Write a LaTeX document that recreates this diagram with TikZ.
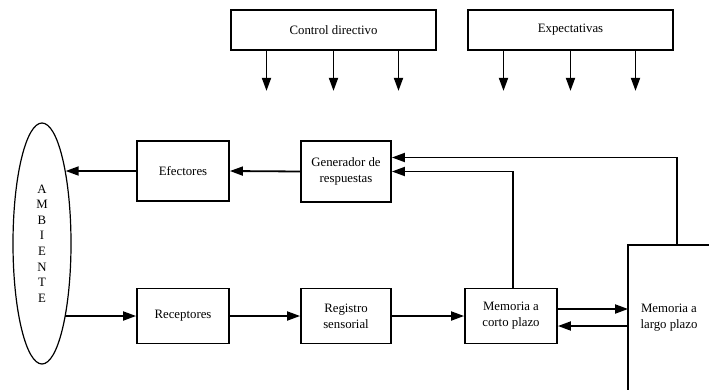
\documentclass[tikz,border=0pt]{standalone}
\usepackage{fontspec}
\setmainfont{Liberation Serif}
\usetikzlibrary{arrows.meta,shapes.geometric}

\tikzset{
  block/.style={draw,line width=1.8pt,inner sep=2pt,align=center,font=\fontsize{12.8}{16}\selectfont},
  flow/.style={line width=1.8pt,-{Triangle[length=13pt,width=9pt]}},
}

\begin{document}
\begin{tikzpicture}[x=1pt,y=-1pt]
\useasboundingbox (0,0) rectangle (709,389);
% top row
\node[block,minimum width=205pt,minimum height=40pt] (ctrl) at (333.5,30) {Control directivo};
\node[block,minimum width=205pt,minimum height=40pt] (expect) at (570.5,30) {Expectativas};
\foreach \dx in {-67,0,65} {
  \draw[flow] ([xshift=\dx pt]ctrl.south) -- ++(0,40);
  \draw[flow] ([xshift=\dx pt]expect.south) -- ++(0,40);
}
% environment
\node[draw,ellipse,line width=1.2pt,minimum width=58pt,minimum height=241pt,inner sep=0pt,
  align=center,font=\fontsize{12.8}{15.6}\selectfont] (amb) at (42,243.5) {A\\M\\B\\I\\E\\N\\T\\E};
% middle row
\node[block,minimum width=92pt,minimum height=60pt] (efect) at (183,171) {Efectores};
\node[block,minimum width=90pt,minimum height=61pt] (gen) at (346,171.5) {Generador de\\respuestas};
% bottom row
\node[block,minimum width=92pt,minimum height=55pt] (recep) at (183,316) {Receptores};
\node[block,minimum width=90pt,minimum height=55pt] (regis) at (346,316) {Registro\\sensorial};
\node[block,minimum width=92pt,minimum height=55pt] (stm) at (511,316) {Memoria a\\corto plazo};
\node[block,draw=none,minimum width=80pt,minimum height=144pt] (ltm) at (669,318) {Memoria a\\largo plazo};
\draw[line width=1.8pt] (ltm.south west) |- (ltm.north east);
% connectors
\draw[flow] (gen.west) -- (efect.east);
\draw[flow] (efect.west) -- (efect.west -| amb.72);
\draw[flow] (amb.-73 |- recep.west) -- (recep.west);
\draw[flow] (recep.east) -- (regis.west);
\draw[flow] (regis.east) -- (stm.west);
\draw[flow] ([yshift=7pt]stm.east) -- ([yshift=7pt]stm.east -| ltm.west);
\draw[flow] ([yshift=-10pt]stm.east -| ltm.west) -- ([yshift=-10pt]stm.east);
\draw[flow] ([xshift=2pt]stm.north) |- (gen.east);
\draw[flow] ([xshift=8pt]ltm.north) |- ([yshift=14pt]gen.east);
\end{tikzpicture}
\end{document}
